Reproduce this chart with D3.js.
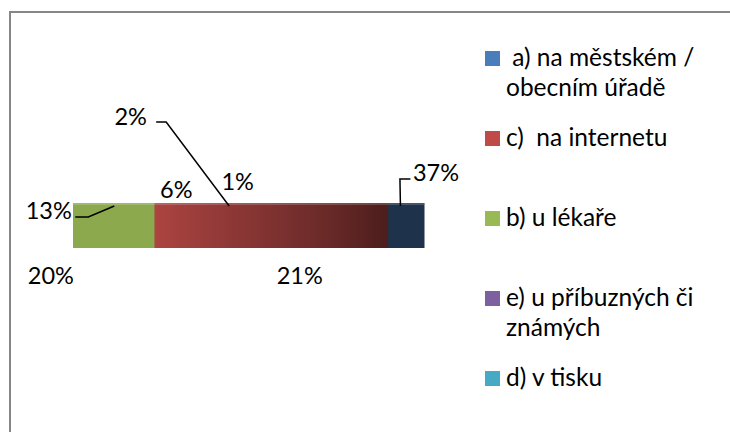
<!DOCTYPE html>
<html>
<head>
<meta charset="utf-8">
<script src="https://cdn.jsdelivr.net/npm/d3@7"></script>
<style>
  html, body { margin: 0; padding: 0; background: #fff; }
  svg { display: block; font-family: Lato, "Open Sans", sans-serif; }
</style>
</head>
<body>
<div id="chart"></div>
<script>
// slice shares in drawing order (clockwise from 12 o'clock)
const sliceValues = [37, 21, 20, 13, 6, 2, 1];
const sliceLabels = ['37%', '21%', '20%', '13%', '6%', '2%', '1%'];
const sliceColors = ['#4A7EBB', '#BE4B48', '#98B954', '#7D60A0', '#46AAC5', '#F79646', '#2C4D75'];

// legend entries that are visible in the picture
const legendLines = [
  [' a) na městském /', 'obecním úřadě'],
  ['c)  na internetu'],
  ['b) u lékaře'],
  ['e) u příbuzných či', 'známých'],
  ['d) v tisku']
];
const legendColors = ['#4A7EBB', '#BE4B48', '#98B954', '#7D60A0', '#46AAC5'];

// label placement relative to the slice anchor on the rim
const labelLayout = [
  { dx: 35.5, dy: -22, leader: [[-36, -2], [-25.5, -2]] },
  { dx: 20, dy: 81, leader: null },
  { dx: -31, dy: 81, leader: null },
  { dx: -65.5, dy: 16, leader: [[39.5, -2], [26.5, -2]] },
  { dx: -15, dy: -5, leader: null },
  { dx: -98.5, dy: -78, leader: [[35.5, -3], [25.5, -3]] },
  { dx: -6, dy: -13, leader: null }
];

const width = 730, height = 432;
const svg = d3.select('#chart').append('svg')
  .attr('width', width).attr('height', height);

// chart area border (runs off right and bottom)
svg.append('rect')
  .attr('x', 10).attr('y', 12)
  .attr('width', 740).attr('height', 440)
  .attr('fill', 'none').attr('stroke', '#868686').attr('stroke-width', 2);

const defs = svg.append('defs');

// edge-on pie with a little perspective
const D = 7.75;
const persp = a => Math.sin(a) * D / (D + Math.cos(a));
const edge = Math.acos(-1 / D);            // silhouette angle
const xMax = persp(edge);
const x = d3.scaleLinear().domain([-xMax, xMax]).range([73, 424]);
const rimY = 203, bandH = 45;

const deg = Math.PI / 180;
const light = d3.scaleLinear().domain([135 * deg, 210 * deg]).range([0.4, 0.92]).clamp(true);

const arcs = d3.pie().sort(null)(sliceValues);
const front = [edge, 2 * Math.PI - edge];

const band = svg.append('g');
arcs.forEach((a, i) => {
  const a0 = Math.max(a.startAngle, front[0]);
  const a1 = Math.min(a.endAngle, front[1]);
  if (a1 <= a0) return;
  const xa = x(persp(a0)), xb = x(persp(a1));
  const left = Math.min(xa, xb), w = Math.abs(xa - xb);
  const g = defs.append('linearGradient').attr('id', 'side' + i)
    .attr('x1', 0).attr('x2', 1).attr('y1', 0).attr('y2', 0);
  const base = d3.rgb(sliceColors[i]);
  const stops = d3.range(25).map(k => {
    const t = a0 + (a1 - a0) * k / 24;
    const f = light(t);
    return {
      offset: w ? (x(persp(t)) - left) / w : 0,
      color: d3.rgb(base.r * f, base.g * f, base.b * f).formatHex()
    };
  }).sort((p, q) => p.offset - q.offset);
  g.selectAll('stop').data(stops).join('stop')
    .attr('offset', d => d.offset)
    .attr('stop-color', d => d.color);
  band.append('rect')
    .attr('x', left).attr('y', rimY)
    .attr('width', w + 0.5).attr('height', bandH)
    .attr('fill', `url(#side${i})`);
});
// thin top face seen almost edge-on
band.append('rect')
  .attr('x', x.range()[0]).attr('y', rimY)
  .attr('width', x.range()[1] - x.range()[0]).attr('height', 2)
  .attr('fill', '#fff').attr('opacity', 0.18);

// data labels
const labels = svg.append('g').attr('font-size', 23.5).attr('fill', '#000');
arcs.forEach((a, i) => {
  const mid = (a.startAngle + a.endAngle) / 2;
  const ax = x(persp(mid));
  const lay = labelLayout[i];
  const lx = ax + lay.dx, ly = rimY + lay.dy;
  if (lay.leader) {
    const pts = [[ax, rimY + 3], [lx + lay.leader[0][0], ly + lay.leader[0][1]], [lx + lay.leader[1][0], ly + lay.leader[1][1]]];
    labels.append('path')
      .attr('d', d3.line()(pts))
      .attr('fill', 'none').attr('stroke', '#000').attr('stroke-width', 1.5);
  }
  labels.append('text')
    .attr('x', lx).attr('y', ly)
    .attr('text-anchor', 'middle')
    .text(sliceLabels[i]);
});

// legend
const legend = svg.append('g').attr('font-size', 24.5).attr('fill', '#000');
legendLines.forEach((lines, i) => {
  const by = 66 + 80 * i;
  legend.append('rect')
    .attr('x', 485).attr('y', by - 15)
    .attr('width', 15).attr('height', 15)
    .attr('fill', legendColors[i]);
  lines.forEach((s, j) => {
    legend.append('text')
      .attr('x', 506).attr('y', by + 30 * j)
      .attr('xml:space', 'preserve')
      .style('white-space', 'pre')
      .text(s);
  });
});
</script>
</body>
</html>
